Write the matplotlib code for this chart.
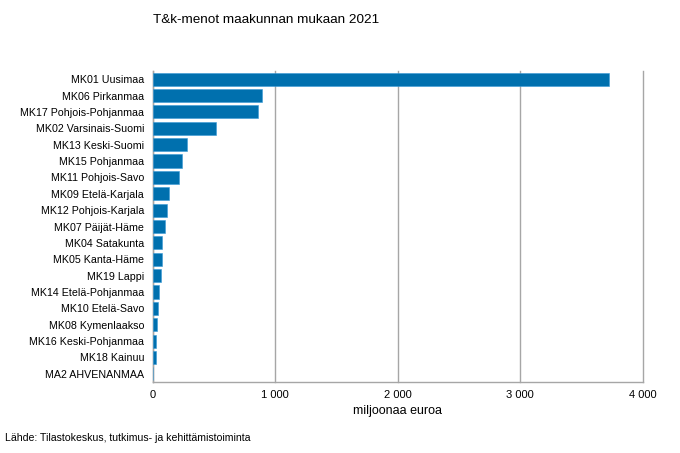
import matplotlib
matplotlib.use("Agg")
import matplotlib.pyplot as plt
from matplotlib.ticker import FuncFormatter, MultipleLocator

plt.rcParams['font.family'] = ['Liberation Sans', 'DejaVu Sans']

regions = ["MK01 Uusimaa", "MK06 Pirkanmaa", "MK17 Pohjois-Pohjanmaa",
           "MK02 Varsinais-Suomi", "MK13 Keski-Suomi", "MK15 Pohjanmaa",
           "MK11 Pohjois-Savo", "MK09 Etelä-Karjala", "MK12 Pohjois-Karjala",
           "MK07 Päijät-Häme", "MK04 Satakunta", "MK05 Kanta-Häme",
           "MK19 Lappi", "MK14 Etelä-Pohjanmaa", "MK10 Etelä-Savo",
           "MK08 Kymenlaakso", "MK16 Keski-Pohjanmaa", "MK18 Kainuu",
           "MA2 AHVENANMAA"]
values = [3727, 891, 864, 518, 283, 237, 218, 136, 120, 98, 78, 79,
          68, 49, 41, 33, 27, 25, 2]

fig = plt.figure(figsize=(6.8, 4.53), dpi=100)
ax = fig.add_axes([0.2243, 0.1567, 0.7208, 0.6866])

ypos = list(range(len(regions)))
ax.barh(ypos, values, height=0.8, color='#0070ae', edgecolor='#3a9ad6',
        linewidth=0.4, zorder=3)

ax.set_ylim(len(regions) - 0.5, -0.5)
ax.set_xlim(0, 4000)
ax.set_yticks(ypos)
ax.set_yticklabels(regions, fontsize=7.7)
ax.xaxis.set_major_locator(MultipleLocator(1000))
ax.xaxis.set_major_formatter(FuncFormatter(lambda v, p: f"{int(v):,}".replace(",", " ")))
ax.tick_params(axis='x', labelsize=8, length=0, pad=6)
ax.tick_params(axis='y', length=0, pad=6)

ax.grid(axis='x', color='#a6a6a6', lw=1, zorder=0)
for gl in ax.get_xgridlines():
    gl.set_clip_on(False)
for s in ['top', 'right']:
    ax.spines[s].set_visible(False)
for s in ['left', 'bottom']:
    ax.spines[s].set_color('#a6a6a6')
    ax.spines[s].set_linewidth(1)

ax.set_xlabel("miljoonaa euroa", fontsize=9, labelpad=3)
fig.text(153 / 680, 1 - 20 / 453, "T&k-menot maakunnan mukaan 2021",
         fontsize=9.7, ha='left', va='center')
fig.text(5 / 680, 1 - 438 / 453, "Lähde: Tilastokeskus, tutkimus- ja kehittämistoiminta",
         fontsize=7.6, ha='left', va='center')

fig.savefig("out.png", dpi=100)
